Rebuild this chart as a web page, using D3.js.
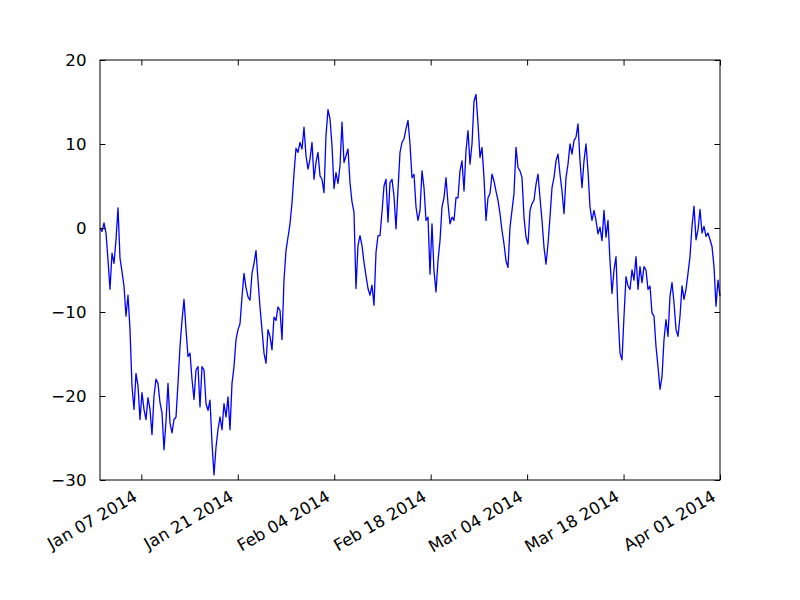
<!DOCTYPE html>
<html>
<head>
<meta charset="utf-8">
<script src="https://cdn.jsdelivr.net/npm/d3@7"></script>
<style>
  body { margin: 0; background: #fff; }
  text { font-family: "DejaVu Sans", sans-serif; font-size: 16.67px; fill: #000; }
</style>
</head>
<body>
<div id="chart"></div>
<script>
// random walk at regular steps from Jan 01 2014 to Apr 01 2014
var startDate = "2014-01-01";
var endDate = "2014-04-01";
var values = [
  0.0, -0.4, 0.6, -0.6, -3.8, -7.3, -3.0, -4.2, -1.4, 2.4,
  -3.6, -5.2, -6.9, -10.5, -8.0, -12.1, -18.8, -21.6, -17.3, -18.8,
  -22.8, -19.6, -21.6, -22.8, -20.2, -21.6, -24.6, -20.0, -18.0, -18.5,
  -20.8, -22.0, -26.4, -23.0, -18.5, -23.2, -24.4, -22.8, -22.5, -18.5,
  -14.1, -11.0, -8.5, -12.1, -15.3, -14.9, -18.0, -20.4, -16.9, -16.5,
  -21.3, -16.5, -16.9, -20.9, -21.7, -20.5, -25.6, -29.4, -26.1, -24.0,
  -22.5, -24.0, -20.9, -22.5, -20.1, -24.0, -18.5, -16.5, -13.3, -12.1,
  -11.4, -8.2, -5.4, -7.1, -8.2, -8.6, -5.4, -4.2, -2.7, -6.2,
  -9.4, -12.1, -14.9, -16.1, -12.1, -12.9, -14.5, -10.6, -11.0, -9.4,
  -9.8, -13.3, -6.2, -2.7, -1.1, 0.5, 3.0, 6.5, 9.5, 9.0,
  10.2, 9.4, 12.0, 8.6, 7.0, 8.2, 10.2, 5.8, 7.8, 9.0,
  6.2, 5.8, 4.2, 11.0, 14.1, 13.0, 9.8, 4.7, 6.6, 5.3,
  7.4, 12.6, 7.8, 8.6, 9.4, 5.4, 3.1, 1.9, -7.2, -2.1,
  -0.9, -2.1, -4.1, -5.7, -7.2, -8.0, -6.8, -9.2, -2.9, -0.9,
  -0.9, 1.9, 5.0, 5.8, 0.7, 5.4, 5.8, 3.8, -0.1, 4.6,
  9.0, 10.2, 10.6, 11.8, 12.8, 10.0, 6.0, 6.4, 2.5, 0.9,
  2.1, 6.8, 4.8, 0.9, 1.3, -5.5, 0.5, -5.1, -7.6, -3.9,
  -1.5, 2.5, 3.6, 6.0, 2.9, 0.5, 1.3, 0.9, 3.6, 3.6,
  6.8, 8.0, 4.4, 9.2, 11.6, 7.6, 10.0, 15.1, 15.9, 12.4,
  8.4, 9.6, 6.0, 0.9, 3.6, 4.1, 6.4, 5.6, 4.4, 3.3,
  1.7, -0.3, -1.9, -3.9, -4.7, 0.1, 2.1, 4.1, 9.6, 7.2,
  6.8, 6.0, 1.3, -1.1, -1.9, 2.1, 2.9, 3.3, 5.2, 6.4,
  3.6, 0.9, -2.3, -4.3, -1.9, 1.3, 4.8, 6.0, 8.0, 8.8,
  6.4, 4.4, 1.7, 6.0, 7.6, 10.0, 8.8, 10.4, 10.8, 12.4,
  8.0, 4.8, 8.0, 10.0, 6.8, 2.5, 0.9, 2.1, 0.9, -0.7,
  0.1, -1.5, 2.1, -1.1, 0.9, -3.9, -7.8, -5.0, -3.4, -10.1,
  -14.9, -15.7, -10.5, -5.8, -6.9, -7.3, -5.0, -6.2, -3.4, -7.3,
  -4.6, -6.5, -4.6, -5.0, -7.3, -6.9, -10.1, -10.5, -14.1, -16.5,
  -19.2, -17.7, -13.3, -10.9, -12.9, -8.1, -6.5, -8.9, -12.1, -12.9,
  -10.5, -6.9, -8.5, -7.3, -5.4, -3.4, 0.2, 2.6, -1.4, -0.2,
  2.2, -0.6, 0.2, -1.0, -0.6, -1.4, -2.2, -4.6, -9.3, -6.2,
  -8.1
];
var xTickDates = ["2014-01-07", "2014-01-21", "2014-02-04", "2014-02-18", "2014-03-04", "2014-03-18", "2014-04-01"];
var yTicks = [-30, -20, -10, 0, 10, 20];

var margin = { left: 100, right: 80, top: 60, bottom: 120 };
var width = 800 - margin.left - margin.right;
var height = 600 - margin.top - margin.bottom;

var svg = d3.select("#chart").append("svg")
    .attr("width", 800)
    .attr("height", 600);

var g = svg.append("g")
    .attr("transform", "translate(" + margin.left + "," + margin.top + ")");

var t0 = new Date(startDate + "T00:00:00Z");
var t1 = new Date(endDate + "T00:00:00Z");
var step = (t1 - t0) / (values.length - 1);
var data = values.map((v, i) => ({ date: new Date(+t0 + i * step), value: v }));

var x = d3.scaleUtc().domain([t0, t1]).range([0, width]);
var y = d3.scaleLinear().domain([-30, 20]).range([height, 0]);

var fmt = d3.utcFormat("%b %d %Y");
var xTicks = xTickDates.map(d => new Date(d + "T00:00:00Z"));

// line
var line = d3.line()
    .x(d => x(d.date))
    .y(d => y(d.value));

g.append("path")
    .datum(data)
    .attr("fill", "none")
    .attr("stroke", "#0000ff")
    .attr("stroke-width", 1.3)
    .attr("stroke-linejoin", "round")
    .attr("d", line);

// inward ticks on all four sides (classic matplotlib look)
var tl = 5.5;
var xAxisBottom = d3.axisBottom(x).tickValues(xTicks).tickSize(-tl).tickFormat("");
var xAxisTop = d3.axisTop(x).tickValues(xTicks).tickSize(-tl).tickFormat("");
var yAxisLeft = d3.axisLeft(y).tickValues(yTicks).tickSize(-tl).tickPadding(tl + 8)
    .tickFormat(d => d3.format("d")(d).replace("-", "\u2212"));
var yAxisRight = d3.axisRight(y).tickValues(yTicks).tickSize(-tl).tickFormat("");

g.append("g").attr("transform", "translate(0," + height + ")").call(xAxisBottom);
g.append("g").call(xAxisTop);
var yl = g.append("g").call(yAxisLeft);
g.append("g").attr("transform", "translate(" + width + ",0)").call(yAxisRight);

svg.selectAll(".domain").remove();
svg.selectAll(".tick line").attr("stroke", "#000").attr("stroke-width", 1);
yl.selectAll("text").attr("font-family", null).attr("font-size", null);

// frame
g.append("rect")
    .attr("width", width)
    .attr("height", height)
    .attr("fill", "none")
    .attr("stroke", "#000")
    .attr("stroke-width", 1);

// rotated date labels
g.selectAll(".xlabel")
    .data(xTicks)
    .enter().append("text")
    .attr("class", "xlabel")
    .attr("text-anchor", "end")
    .attr("transform", d => "translate(" + (x(d) - 3) + "," + (height + 20) + ") rotate(-30)")
    .text(d => fmt(d));
</script>
</body>
</html>
